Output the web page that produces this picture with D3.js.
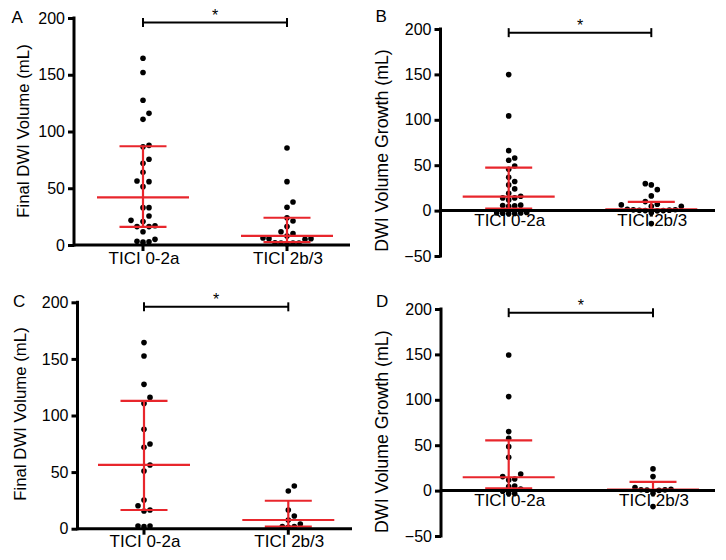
<!DOCTYPE html>
<html>
<head>
<meta charset="utf-8">
<script src="https://cdn.jsdelivr.net/npm/d3@7/dist/d3.min.js"></script>
<style>
  html, body { margin: 0; padding: 0; background: #fff; }
  svg { display: block; font-family: "Liberation Sans", Arial, Helvetica, sans-serif; }
</style>
</head>
<body>
<svg id="chart" width="726" height="560"></svg>
<script>
// ---------------- data ----------------
const categories = ["TICI 0-2a", "TICI 2b/3"];
const panelLetters = ["A", "B", "C", "D"];
const yTitles = ["Final DWI Volume (mL)", "DWI Volume Growth (mL)", "Final DWI Volume (mL)", "DWI Volume Growth (mL)"];
const ticksVolume = [0, 50, 100, 150, 200];
const ticksGrowth = [-50, 0, 50, 100, 150, 200];
const sigLabel = "*";
const sigLevel = 196;

// Panel A: final DWI volume (all patients)
const aGroup1 = [164.5, 152, 127.5, 116, 110.7, 87.8, 86.6, 75.5, 72, 64, 56.4, 55.8, 51.4, 32.9, 32.9, 25.6, 21.7, 20.6, 17, 16.2, 16.2, 11.7, 5, 3.2, 2.8, 2.5];
const aGroup2 = [85.5, 55.8, 37.9, 33.2, 24, 21.1, 16.2, 11.7, 10, 7.9, 6.2, 5.6, 5.6, 5, 2, 1.7, 1.7, 1.7, 1.2];
const aMedian = [42, 8];
const aQ1 = [16, 2.5];
const aQ3 = [87, 24];

// Panel B: DWI volume growth (all patients)
const bGroup1 = [149.8, 104.3, 66, 58, 55.5, 49.2, 45.6, 36.8, 32, 28.3, 23.9, 19.1, 15.8, 14, 14, 11.8, 6, 5.5, 5.2, 4.8, -2, -2.3, -2.6, -2.9, -3.2, -3.5];
const bGroup2 = [29.7, 28.3, 23.1, 16.2, 9.9, 7, 6.3, 4.8, 4.8, 1.5, 1, 0.8, 0.5, 0.3, 0, 0, -0.3, -2.5, -14.3];
const bMedian = [15.5, 1.5];
const bQ1 = [2.2, 0];
const bQ3 = [47.4, 9.5];

// Panel C: final DWI volume (subset)
const cGroup1 = [164.4, 152.6, 127.5, 116, 110.7, 87.8, 74.8, 71.9, 56.3, 51, 25.3, 20.3, 16.5, 15.6, 2.4, 2.4, 1.8];
const cGroup2 = [37.7, 33.3, 16.5, 11.2, 7.7, 4.1, 1.8, 1.8, 1.2];
const cMedian = [56.3, 7.7];
const cQ1 = [16.5, 1.8];
const cQ3 = [113, 24.7];

// Panel D: DWI volume growth (subset)
const dGroup1 = [149.4, 103.5, 65, 57.6, 48.4, 36.7, 18.3, 15.4, 12.8, 11.7, 5.1, 4.4, 1.8, -0.7, -3.3, -3.3];
const dGroup2 = [23.9, 15.4, 3.3, 1.5, 1, 0.8, 0.5, 0.2, -3, -17.6];
const dMedian = [14.7, 1];
const dQ1 = [2.6, 0];
const dQ3 = [55.4, 9.5];

// ---------------- layout (positions / styles) ----------------
const RED = "#e8262c";
const layout = [
  { x0: 74,    xEnd: 350, centers: [143, 287],     yRange: [245, 18],    domain: [0, 200],   ticks: ticksVolume,
    letter: [11.5, 23], title: [28.5, 131], titleSize: 16.8, labelDy: 19 },
  { x0: 440.5, xEnd: 715, centers: [508.7, 651.3], yRange: [256, 29],    domain: [-50, 200], ticks: ticksGrowth,
    letter: [375.5, 22], title: [388, 150.5], titleSize: 17.8, labelDy: 15 },
  { x0: 77.5,  xEnd: 352, centers: [144, 288.3],   yRange: [528.7, 302.3], domain: [0, 200], ticks: ticksVolume,
    letter: [13, 306.5], title: [26, 414], titleSize: 16.8, labelDy: 18.5 },
  { x0: 441,   xEnd: 715, centers: [508.7, 653],   yRange: [536, 309],   domain: [-50, 200], ticks: ticksGrowth,
    letter: [376, 306.5], title: [388, 431.7], titleSize: 17.8, labelDy: 15 }
];
const panelData = [
  { groups: [aGroup1, aGroup2], median: aMedian, q1: aQ1, q3: aQ3 },
  { groups: [bGroup1, bGroup2], median: bMedian, q1: bQ1, q3: bQ3 },
  { groups: [cGroup1, cGroup2], median: cMedian, q1: cQ1, q3: cQ3 },
  { groups: [dGroup1, dGroup2], median: dMedian, q1: dQ1, q3: dQ3 }
];

const svg = d3.select("#chart");
svg.append("rect").attr("width", 726).attr("height", 560).attr("fill", "#fff");

const DOT_R = 2.8, SLOT = 6, THR = 6.3;
const slotOrder = [0, 1, -1, 2, -2, 3, -3, 4, -4, 5, -5, 6, -6];

function swarm(values, y) {
  const pts = values.map(v => ({ v, py: y(v) })).sort((a, b) => a.v - b.v);
  const placed = [];
  pts.forEach(p => {
    for (const s of slotOrder) {
      if (!placed.some(q => q.s === s && Math.abs(q.py - p.py) < THR)) { p.s = s; break; }
    }
    placed.push(p);
  });
  return placed;
}

layout.forEach((L, i) => {
  const D = panelData[i];
  const g = svg.append("g");
  const y = d3.scaleLinear().domain(L.domain).range(L.yRange);
  const x = d3.scalePoint().domain(categories).range(L.centers);
  const y0 = y(0);

  // panel letter
  g.append("text").attr("x", L.letter[0]).attr("y", L.letter[1])
    .attr("font-size", 17).attr("fill", "#000").text(panelLetters[i]);

  // y title
  g.append("text")
    .attr("transform", `translate(${L.title[0]},${L.title[1]}) rotate(-90)`)
    .attr("text-anchor", "middle").attr("font-size", L.titleSize).attr("fill", "#000")
    .text(yTitles[i]);

  // category labels
  g.selectAll(".cat").data(categories).join("text")
    .attr("x", d => x(d) + 1).attr("y", y0 + L.labelDy)
    .attr("text-anchor", "middle").attr("font-size", 17).attr("fill", "#000")
    .text(d => d);

  // y axis via d3.axisLeft
  const yAxis = d3.axisLeft(y).tickValues(L.ticks).tickSize(6).tickPadding(3).tickFormat(d3.format("d"));
  const ax = g.append("g").attr("transform", `translate(${L.x0},0)`).call(yAxis);
  ax.select(".domain").remove();
  ax.selectAll(".tick line").attr("stroke", "#000").attr("stroke-width", 3);
  ax.selectAll(".tick text").attr("font-size", 16).attr("fill", "#000")
    .attr("font-family", "Liberation Sans, Arial, sans-serif");

  // dots
  D.groups.forEach((vals, gi) => {
    const cx = x(categories[gi]);
    const pts = swarm(vals, y);
    g.selectAll(null).data(pts).join("circle")
      .attr("cx", d => cx + d.s * SLOT).attr("cy", d => d.py)
      .attr("r", DOT_R).attr("fill", "#000");
  });

  // median + IQR (red)
  categories.forEach((c, gi) => {
    const cx = x(c);
    g.append("line").attr("x1", cx - 46).attr("x2", cx + 46)
      .attr("y1", y(D.median[gi])).attr("y2", y(D.median[gi]))
      .attr("stroke", RED).attr("stroke-width", 2.2);
    [D.q1[gi], D.q3[gi]].forEach(q => {
      g.append("line").attr("x1", cx - 23.5).attr("x2", cx + 23.5)
        .attr("y1", y(q)).attr("y2", y(q))
        .attr("stroke", RED).attr("stroke-width", 2.2);
    });
    g.append("line").attr("x1", cx).attr("x2", cx)
      .attr("y1", y(D.q1[gi])).attr("y2", y(D.q3[gi]))
      .attr("stroke", RED).attr("stroke-width", 2.2);
  });

  // axis lines
  g.append("line").attr("x1", L.x0).attr("x2", L.x0)
    .attr("y1", y(L.domain[1]) - 1.5).attr("y2", y(L.domain[0]) + 1.5)
    .attr("stroke", "#000").attr("stroke-width", 3);
  g.append("line").attr("x1", L.x0).attr("x2", L.xEnd)
    .attr("y1", y0).attr("y2", y0)
    .attr("stroke", "#000").attr("stroke-width", 3);
  categories.forEach(c => {
    g.append("line").attr("x1", x(c)).attr("x2", x(c))
      .attr("y1", y0).attr("y2", y0 + 6)
      .attr("stroke", "#000").attr("stroke-width", 3);
  });

  // significance bracket
  const by = y(sigLevel);
  const xa = x(categories[0]), xb = x(categories[1]);
  g.append("line").attr("x1", xa).attr("x2", xb).attr("y1", by).attr("y2", by)
    .attr("stroke", "#000").attr("stroke-width", 2);
  [xa, xb].forEach(xx => {
    g.append("line").attr("x1", xx).attr("x2", xx).attr("y1", by - 4.5).attr("y2", by + 4.5)
      .attr("stroke", "#000").attr("stroke-width", 2);
  });
  g.append("text").attr("x", (xa + xb) / 2).attr("y", by - 1.5)
    .attr("text-anchor", "middle").attr("font-size", 16).attr("fill", "#000").text(sigLabel);
});
</script>
</body>
</html>
